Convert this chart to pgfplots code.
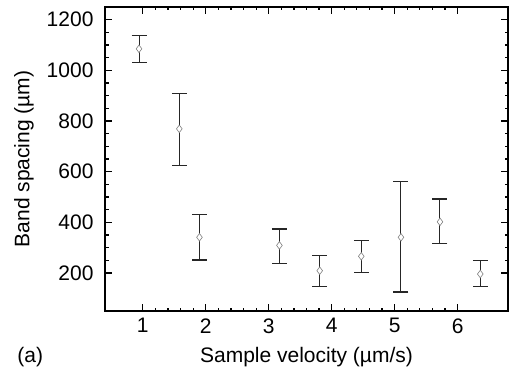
\documentclass[border=0pt]{standalone}
\usepackage{fontspec}
\setmainfont{Liberation Sans}
\usepackage{pgfplots}
\pgfplotsset{compat=1.18}
\usepackage{pgfplotstable}
\pgfplotstableread{
x     y     ep   em
0.94  1085  53   53
1.58  769   139  144
1.90  341   89   90
3.17  309   65   72
3.81  209   59   62
4.47  266   63   64
5.10  341   219  216
5.72  402   90   86
6.36  196   53   49
}\datatable
\begin{document}
\begin{tikzpicture}[x=1pt,y=1pt]
\useasboundingbox (0,0) rectangle (509,370);
\begin{axis}[
  at={(105pt,59pt)}, anchor=south west,
  scale only axis, width=403pt, height=304pt,
  xmin=0.4, xmax=6.8, ymin=50, ymax=1250,
  xtick={1,2,3,4,5,6}, minor x tick num=4,
  ytick={200,400,600,800,1000,1200}, minor y tick num=3,
  tick align=inside,
  major tick length=7pt, minor tick length=3.5pt,
  axis line style={line width=1.5pt},
  every tick/.style={line width=1.2pt, black},
  tick label style={font=\fontsize{21}{25}\selectfont},
  yticklabel style={xshift=-8pt},
  xticklabel style={yshift=-4pt},
  /pgf/number format/1000 sep={},
  /pgf/number format/assume math mode=true,
  xlabel={Sample velocity (µm/s)},
  ylabel={Band spacing (µm)},
  label style={font=\fontsize{21}{25}\selectfont},
  xlabel style={at={(axis description cs:0.5,-0.168)}, anchor=base},
  ylabel style={at={(axis description cs:-0.201,0.5)}, anchor=center},
  clip=false,
]
\addplot[
  only marks, black, line width=1pt,
  mark=diamond*, mark size=3.8pt,
  mark options={fill=white, draw=gray, line width=0.6pt},
  error bars/.cd, y dir=both, y explicit,
  error bar style={line width=1pt, black!85},
  error mark options={rotate=90, mark size=7.5pt, line width=1.4pt, black!85},
] table[x=x, y=y, y error plus=ep, y error minus=em] {\datatable};
\node[anchor=base west, font=\fontsize{21}{25}\selectfont] at (axis description cs:-0.226,-0.168) {(a)};
\end{axis}
\end{tikzpicture}
\end{document}
